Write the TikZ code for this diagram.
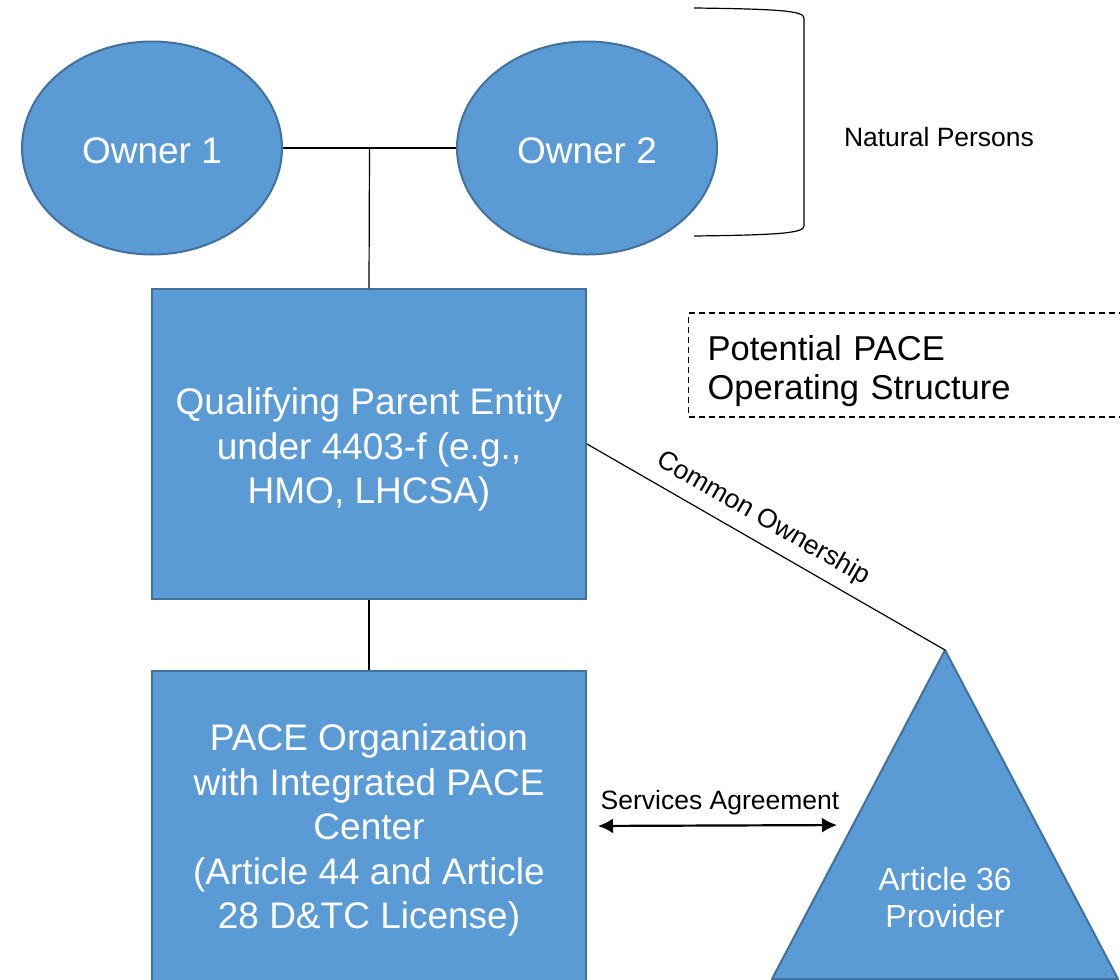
\documentclass[tikz,border=0pt]{standalone}
\usepackage{fontspec}
\setmainfont{Liberation Sans}
\usetikzlibrary{arrows.meta,positioning,shapes.geometric,calc}
\definecolor{paceblue}{HTML}{5B9BD5}
\definecolor{paceedge}{HTML}{41719C}
\newcommand{\lift}[1]{\rule{0pt}{#1}}

\begin{document}
\begin{tikzpicture}[
  x=1pt, y=-1pt,
  owner/.style={ellipse, draw=paceedge, fill=paceblue, line width=2pt, text=white, minimum width=260pt, minimum height=213pt, font=\fontsize{37}{44}\selectfont},
  entity/.style={rectangle, draw=paceedge, fill=paceblue, line width=2pt, text=white, minimum width=434pt, minimum height=310pt, align=center, font=\fontsize{37}{44.5}\selectfont},
  label/.style={font=\fontsize{26.5}{31}\selectfont, text=black},
  link/.style={line width=1.2pt},
  twoway/.style={arrows={Latex[length=15pt,width=15pt]-Latex[length=15pt,width=15pt]}, line width=2.2pt}
]
\useasboundingbox (0,0) rectangle (1120,980);

\node[owner] (own1) at (152,148) {\lift{31pt}Owner 1};
\node[owner] (own2) at (587,148) {\lift{31pt}Owner 2};
\node[entity] (qpe) at (369,444) {\lift{38pt}Qualifying Parent Entity\\under 4403-f (e.g.,\\HMO, LHCSA)};
\node[entity, below=70pt of qpe] (pace) {\lift{35pt}PACE Organization\\with Integrated PACE\\Center\\(Article 44 and Article\\28 D\&TC License)};
\node[label] (natural) at (939,137) {Natural Persons};
\node[draw, dashed, dash pattern=on 6pt off 4pt, line width=1.3pt, anchor=west, text width=413pt, inner xsep=19pt, minimum height=104pt, align=left, font=\fontsize{34.5}{39}\selectfont] (potential) at (688,365) {\lift{37pt}Potential PACE\\Operating Structure};

% provider triangle
\coordinate (apex) at (945,650);
\coordinate (baseL) at (772,979);
\coordinate (baseR) at (1118,979);
\filldraw[fill=paceblue, draw=paceedge, line width=2pt, line join=round] (apex) -- (baseL) -- (baseR) -- cycle;
\node[text=white, align=center, font=\fontsize{32}{37}\selectfont] (provider) at (945,898) {Article 36\\Provider};

% bracket round the owners
\draw[link] (694,8) .. controls (780,9) and (804,11) .. (804,18) -- (804,226) .. controls (804,233) and (780,235) .. (694,236);

\coordinate (join) at ($(own1.east)!0.5!(own2.west)$);
\coordinate (svcend) at (853,825);
\draw[link] (own1.east) -- (own2.west);
\draw[link] (join) -- (qpe.north);
\draw[link] (qpe.south) -- (pace.north);
\draw[link] (qpe.east) -- node[label, sloped, above, pos=0.46, inner sep=10pt] {Common Ownership} (apex);
\draw[twoway, shorten <=11pt, shorten >=16pt] (pace.east) -- node[label, above, inner sep=9pt] {Services Agreement} (svcend);
\end{tikzpicture}
\end{document}
